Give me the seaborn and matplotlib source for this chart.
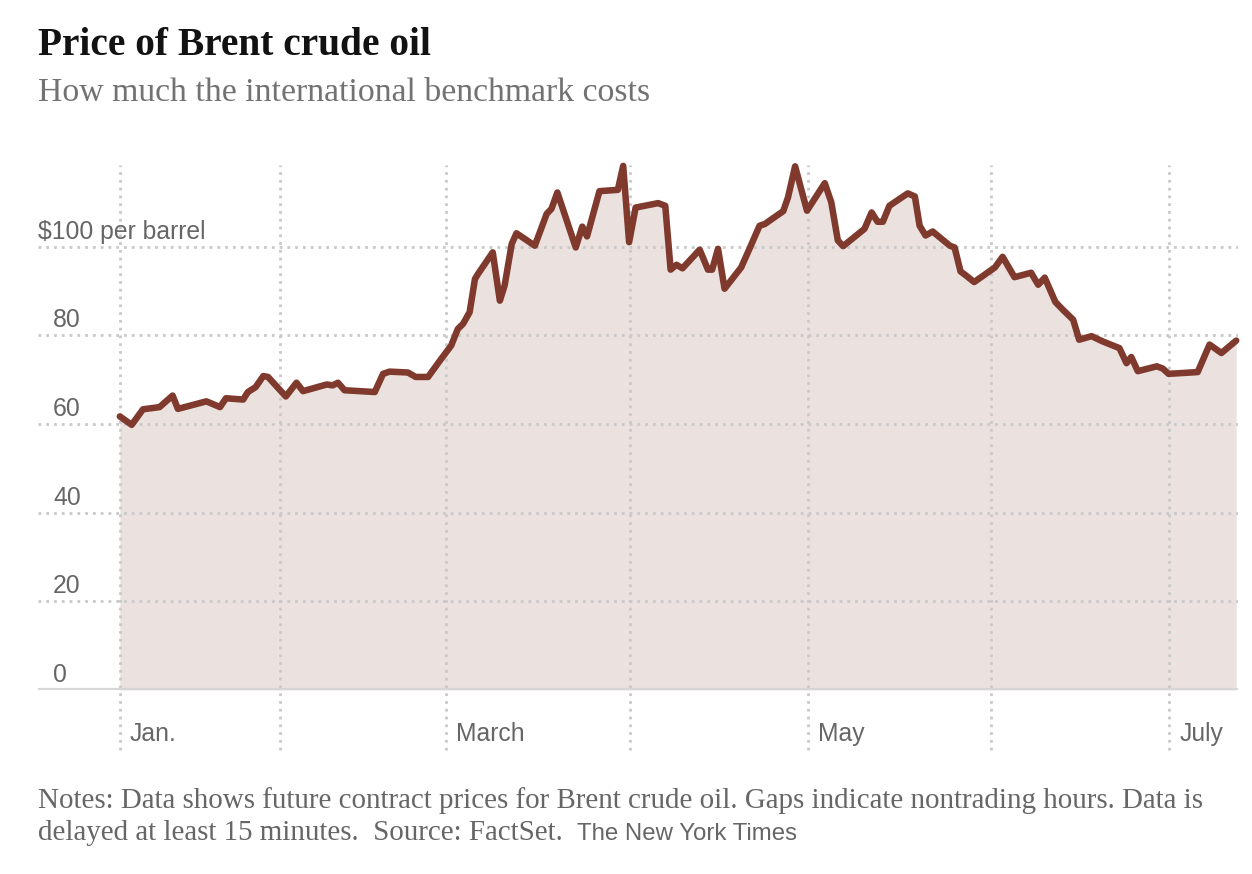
import numpy as np
import pandas as pd
import matplotlib.pyplot as plt
import matplotlib.transforms as mtransforms
import seaborn as sns

# Brent crude (days after Jan. 5, price in $ per barrel)
start_date = "2026-01-05"
days = [0.0, 2.0, 3.9, 6.7, 8.9, 9.8, 14.6, 16.9, 17.9, 20.8, 21.6, 22.9, 24.2, 25.0,
        28.0, 29.8, 30.9, 34.9, 35.9, 36.8, 37.9, 43.0, 44.4, 45.5, 48.6, 49.9, 52.0,
        54.0, 55.9, 57.0, 57.9, 59.0, 59.9, 60.4, 62.9, 64.1, 64.9, 66.1, 66.9, 70.0,
        72.0, 72.8, 73.8, 76.9, 78.0, 78.8, 80.9, 84.0, 84.9, 85.9, 87.0, 90.8, 92.0,
        92.9, 93.9, 94.9, 97.8, 99.2, 99.9, 100.9, 102.0, 104.8, 106.2, 107.9, 108.8,
        111.9, 112.7, 113.9, 115.9, 118.9, 120.0, 121.1, 122.0, 125.6, 126.8, 127.8,
        128.7, 129.8, 132.9, 134.1, 134.9, 135.9, 137.1, 140.0, 140.8, 141.8, 142.7,
        144.1, 147.6, 148.9, 150.9, 153.7, 154.9, 156.0, 157.8, 159.1, 160.8, 161.8,
        163.9, 165.8, 168.6, 169.8, 170.6, 171.7, 174.9, 175.9, 176.9, 181.8, 183.8,
        185.8, 188.3]
prices = [61.7, 59.8, 63.3, 63.8, 66.4, 63.4, 65.1, 63.8, 65.8, 65.5, 67.2, 68.3, 70.8, 70.6,
          66.2, 69.3, 67.4, 68.9, 68.7, 69.3, 67.6, 67.2, 71.3, 71.8, 71.6, 70.6, 70.6,
          74.3, 77.7, 81.4, 82.6, 85.2, 92.7, 93.8, 98.7, 87.8, 91.2, 100.6, 103.0, 100.2,
          107.4, 108.5, 112.2, 99.8, 104.5, 102.3, 112.5, 112.8, 118.2, 101.0, 108.8, 109.8, 109.2,
          94.8, 95.9, 95.1, 99.3, 94.8, 94.8, 99.5, 90.5, 95.3, 99.5, 104.7, 105.1,
          108.0, 111.1, 118.1, 108.1, 114.3, 110.0, 101.4, 100.1, 104.0, 107.7, 105.6,
          105.6, 109.2, 112.0, 111.3, 104.7, 102.5, 103.4, 100.2, 99.8, 94.4, 93.5,
          92.0, 95.3, 97.7, 93.1, 94.1, 91.4, 93.0, 87.5, 85.7, 83.5, 79.0,
          79.8, 78.6, 77.1, 73.7, 75.1, 71.9, 73.0, 72.5, 71.3, 71.7, 77.9,
          76.0, 78.8]

month_dates = ["2026-01-05", "2026-02-01", "2026-03-01", "2026-04-01",
               "2026-05-01", "2026-06-01", "2026-07-01"]
month_labels = ["Jan.", "", "March", "", "May", "", "July"]
y_ticks = [0, 20, 40, 60, 80, 100]
y_labels = ["0", "20", "40", "60", "80", "$100 per barrel"]

title = "Price of Brent crude oil"
subtitle = "How much the international benchmark costs"
notes_1 = "Notes: Data shows future contract prices for Brent crude oil. Gaps indicate nontrading hours. Data is"
notes_2 = "delayed at least 15 minutes.  Source: FactSet.  "
credit = "The New York Times"

df = pd.DataFrame({
    "date": pd.Timestamp(start_date) + pd.to_timedelta(days, unit="D"),
    "price": prices,
})

sns.set_theme(style="white")
plt.rcParams["font.family"] = ["Liberation Sans", "DejaVu Sans"]

LINE = "#7f3a2d"
FILL = "#ebe1df"
GRID = "#c9c9c9"
LABEL = "#666666"

W, H = 1252, 874
fig = plt.figure(figsize=(W / 100, H / 100), dpi=100)
# axes box: x 38..1238 px, y 165..690 px
ax = fig.add_axes([38 / W, 1 - 690 / H, 1200 / W, 525 / H])

t0 = pd.Timestamp(start_date)
ax.set_xlim(t0 - pd.Timedelta(days=13.8), t0 + pd.Timedelta(days=188.6))
ax.set_ylim(0, 118.4)

ax.fill_between(df["date"], df["price"], 0, color=FILL, lw=0, zorder=1)

# dotted gridlines, drawn over the fill
for v in y_ticks[1:]:
    ax.axhline(v, color=GRID, lw=2.0, ls=(0, (1.0, 1.8)), zorder=2)
for d in month_dates:
    ax.axvline(pd.Timestamp(d), ymin=-0.114, ymax=1, color=GRID, lw=2.0,
               ls=(0, (1.0, 1.8)), clip_on=False, zorder=2)
ax.axhline(0, color="#d6d6d6", lw=3.0, zorder=3)

sns.lineplot(data=df, x="date", y="price", ax=ax, color=LINE, lw=4.7,
             solid_joinstyle="round", solid_capstyle="round", zorder=4, clip_on=False)

ax.set_xticks([])
ax.set_yticks([])
ax.set_xlabel("")
ax.set_ylabel("")
sns.despine(ax=ax, left=True, bottom=True)

# y labels sit above their gridline, the $ hangs to the left
ytrans = mtransforms.blended_transform_factory(ax.transAxes, ax.transData)
for v, lab in zip(y_ticks, y_labels):
    x = 0.0 if lab.startswith("$") else 15 / 1200
    ax.text(x, v + 8 / 4.44, lab, transform=ytrans, ha="left", va="baseline",
            fontsize=17.8, color=LABEL)

# month labels to the right of their gridline
xtrans = mtransforms.blended_transform_factory(ax.transData, ax.transAxes)
xtrans = xtrans + mtransforms.ScaledTranslation(10 / 100, 0, fig.dpi_scale_trans)
for d, lab in zip(month_dates, month_labels):
    if lab:
        ax.text(pd.Timestamp(d), (690 - 741) / 525, lab, transform=xtrans,
                ha="left", va="baseline", fontsize=17.8, color=LABEL)

# header and notes
t_title = fig.text(38 / W, 1 - 55 / H, title, ha="left", va="baseline",
                   fontsize=27, fontweight="bold", color="#121212",
                   family=["Liberation Serif", "DejaVu Serif"])
t_sub = fig.text(38 / W, 1 - 101 / H, subtitle, ha="left", va="baseline",
                 fontsize=22, color="#727272",
                 family=["Liberation Serif", "DejaVu Serif"])
t_n1 = fig.text(38 / W, 1 - 808 / H, notes_1, ha="left", va="baseline",
                fontsize=18, color=LABEL, family=["Liberation Serif", "DejaVu Serif"])
t_n2 = fig.text(38 / W, 1 - 840 / H, notes_2, ha="left", va="baseline",
                fontsize=18, color=LABEL, family=["Liberation Serif", "DejaVu Serif"])

# fit text widths to the reference
fig.canvas.draw()
r = fig.canvas.get_renderer()
for txt, target in [(t_title, 392), (t_sub, 610), (t_n1, 1167)]:
    w = txt.get_window_extent(r).width
    txt.set_fontsize(txt.get_fontsize() * target / w)
t_n2.set_fontsize(t_n1.get_fontsize())
fig.canvas.draw()
x_end = t_n2.get_window_extent(r).x1
fig.text(x_end / W, 1 - 840 / H, credit, ha="left", va="baseline",
         fontsize=17.3, color=LABEL)

fig.savefig("out.png", dpi=100, facecolor="white")
